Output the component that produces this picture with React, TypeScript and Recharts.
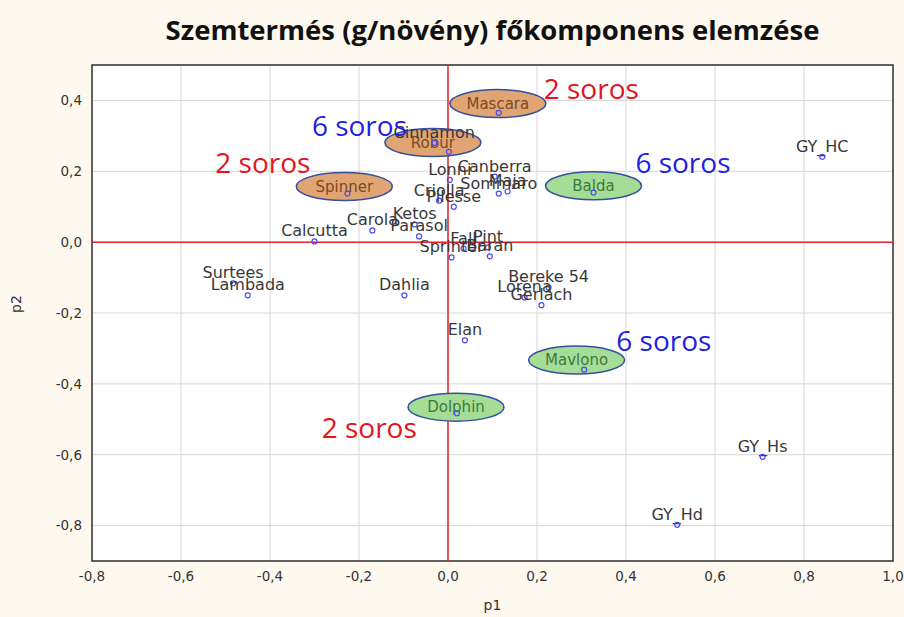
import {
  ScatterChart,
  Scatter,
  XAxis,
  YAxis,
  CartesianGrid,
  ReferenceLine,
  ReferenceArea,
  ReferenceDot,
} from 'recharts';

// genotypes and their loadings on the first two components
const names = [
  'Mascara', 'Cinnamon', 'Robur', 'Lonni', 'Canberra', 'Sommaro', 'Maja',
  'Spinner', 'Balda', 'Criolla', 'Pilesse', 'Ketos', 'Carola', 'Parasol',
  'Calcutta', 'Fall', 'Pint', 'Sprinter', 'Baran', 'Surtees', 'Lambada',
  'Dahlia', 'Bereke 54', 'Lorena', 'Gerlach', 'Elan', 'Mavlono', 'Dolphin',
  'GY_HC', 'GY_Hs', 'GY_Hd',
];
const p1Values = [
  0.114, -0.031, 0.002, 0.004, 0.105, 0.114, 0.134,
  -0.226, 0.327, -0.02, 0.013, -0.075, -0.17, -0.065,
  -0.3, 0.035, 0.09, 0.008, 0.094, -0.483, -0.45,
  -0.098, 0.226, 0.172, 0.21, 0.038, 0.306, 0.02,
  0.841, 0.707, 0.515,
];
const p2Values = [
  0.365, 0.28, 0.255, 0.176, 0.185, 0.137, 0.143,
  0.137, 0.14, 0.117, 0.1, 0.05, 0.033, 0.016,
  0.002, -0.018, -0.015, -0.043, -0.04, -0.116, -0.15,
  -0.15, -0.128, -0.156, -0.178, -0.277, -0.36, -0.483,
  0.241, -0.606, -0.798,
];

const xTicks = [-0.8, -0.6, -0.4, -0.2, 0, 0.2, 0.4, 0.6, 0.8, 1.0];
const yTicks = [-0.8, -0.6, -0.4, -0.2, 0, 0.2, 0.4];

// circled genotypes (ellipse centres in p1/p2 units)
const orangeNames = ['Mascara', 'Robur', 'Spinner'];
const greenNames = ['Balda', 'Mavlono', 'Dolphin'];
const circleNames = ['Mascara', 'Robur', 'Spinner', 'Balda', 'Mavlono', 'Dolphin'];
const circleP1 = [0.112, -0.034, -0.233, 0.327, 0.289, 0.018];
const circleP2 = [0.391, 0.281, 0.157, 0.159, -0.333, -0.466];

// hand-written notes
const noteTexts = ['2 soros', '6 soros', '2 soros', '6 soros', '6 soros', '2 soros'];
const noteP1 = [0.322, -0.199, -0.416, 0.528, 0.485, -0.177];
const noteP2 = [0.433, 0.326, 0.222, 0.222, -0.28, -0.525];

const points = names.map((name, i) => ({ name, p1: p1Values[i], p2: p2Values[i] }));
const circles = circleNames.map((name, i) => ({ name, p1: circleP1[i], p2: circleP2[i] }));

const fmt = (v: number) => v.toFixed(1).replace('.', ',');
const labelFont = '"DejaVu Sans", sans-serif';

function PointShape(props: any) {
  const { cx, cy, payload } = props;
  const name = payload?.name;
  const hidden = circleNames.includes(name);
  return (
    <g>
      {!hidden && (
        <text
          x={cx}
          y={cy - 5}
          textAnchor="middle"
          fontSize={16}
          fontFamily={labelFont}
          fill="#383838"
        >
          {name}
        </text>
      )}
      <circle cx={cx} cy={cy} r={2.5} fill="none" stroke="#4b4bf0" strokeWidth={1.2} />
    </g>
  );
}

function EllipseShape(props: any) {
  const { cx, cy, payload } = props;
  const name = payload?.name;
  const orange = orangeNames.includes(name);
  return (
    <g>
      <ellipse
        cx={cx}
        cy={cy}
        rx={48}
        ry={14}
        fill={orange ? '#e0a572' : greenNames.includes(name) ? '#a6dd96' : '#ddd'}
        stroke="#34509f"
        strokeWidth={1.5}
      />
      <text
        x={cx}
        y={cy}
        dy="0.35em"
        textAnchor="middle"
        fontSize={15}
        fontFamily={labelFont}
        fill={orange ? '#7a4a26' : '#3b7a3b'}
      >
        {name}
      </text>
    </g>
  );
}

export default function App() {
  return (
    <div
      style={{
        position: 'fixed',
        left: 0,
        top: 0,
        width: 904,
        height: 617,
        background: '#fdf9ef',
      }}
    >
      <div
        style={{
          position: 'absolute',
          left: 92,
          width: 801,
          top: 11,
          textAlign: 'center',
          fontFamily: '"Open Sans", sans-serif',
          fontWeight: 700,
          fontSize: 27.5,
          lineHeight: '38px',
          color: '#111',
        }}
      >
        Szemtermés (g/növény) főkomponens elemzése
      </div>
      <ScatterChart
        width={904}
        height={617}
        margin={{ top: 65, right: 11, bottom: 26, left: 32 }}
        style={{ position: 'absolute', left: 0, top: 0 }}
      >
        <CartesianGrid stroke="#d6d6d6" fill="#ffffff" fillOpacity={1} />
        <XAxis
          type="number"
          dataKey="p1"
          domain={[-0.8, 1.0]}
          ticks={xTicks}
          interval={0}
          allowDataOverflow
          height={30}
          tickLine={false}
          axisLine={false}
          tickMargin={4}
          tickFormatter={fmt}
          tick={{ fontSize: 13.5, fontFamily: labelFont, fill: '#333' }}
          label={{ value: 'p1', position: 'insideBottom', offset: -19, fontSize: 14, fontFamily: labelFont, fill: '#333' }}
        />
        <YAxis
          type="number"
          dataKey="p2"
          domain={[-0.9, 0.5]}
          ticks={yTicks}
          interval={0}
          allowDataOverflow
          width={60}
          tickLine={false}
          axisLine={false}
          tickMargin={4}
          tickFormatter={fmt}
          tick={{ fontSize: 13.5, fontFamily: labelFont, fill: '#333' }}
          label={{ value: 'p2', angle: -90, position: 'insideLeft', offset: -16, fontSize: 14, fontFamily: labelFont, fill: '#333' }}
        />
        <ReferenceLine x={0} stroke="#e8262b" strokeWidth={1.5} />
        <ReferenceLine y={0} stroke="#e8262b" strokeWidth={1.5} />
        <ReferenceArea
          x1={-0.8}
          x2={1.0}
          y1={-0.9}
          y2={0.5}
          fill="none"
          stroke="#333"
          strokeWidth={1.5}
          ifOverflow="visible"
        />
        <Scatter data={circles} shape={EllipseShape} isAnimationActive={false} />
        <Scatter data={points} shape={PointShape} isAnimationActive={false} />
        {noteTexts.map((t, i) => (
          <ReferenceDot
            key={`note-${i}`}
            x={noteP1[i]}
            y={noteP2[i]}
            ifOverflow="visible"
            shape={(p: any) => (
              <text
                x={p.cx}
                y={p.cy}
                dy="0.35em"
                textAnchor="middle"
                fontSize={28}
                fontFamily='"Open Sans", sans-serif'
                fill={t.startsWith('2') ? '#e3151c' : '#1f1fe0'}
              >
                {t}
              </text>
            )}
          />
        ))}
      </ScatterChart>
    </div>
  );
}
